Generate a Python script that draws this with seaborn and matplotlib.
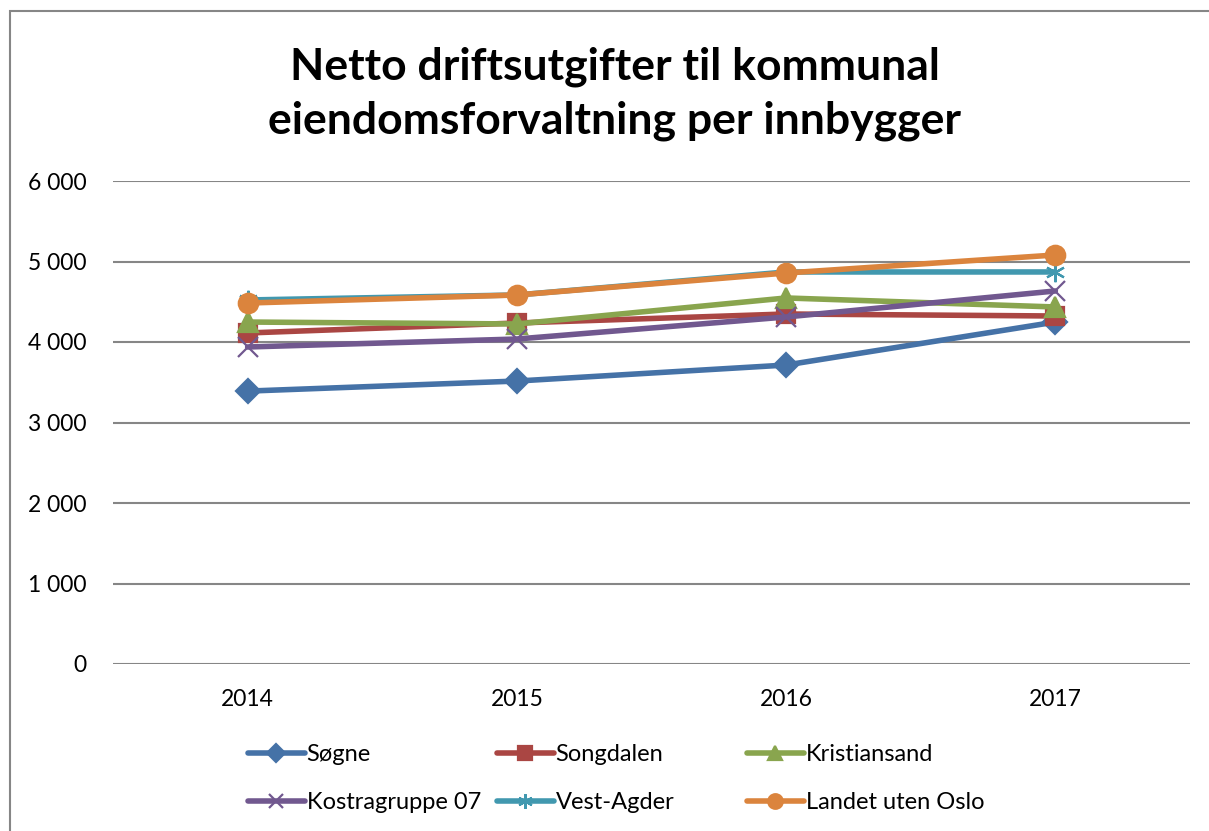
import pandas as pd
import matplotlib.pyplot as plt
import seaborn as sns
from matplotlib.patches import Rectangle
from matplotlib.ticker import FuncFormatter

sns.set_theme(style='white')
plt.rcParams['font.family'] = ['Lato', 'DejaVu Sans']

years = ['2014', '2015', '2016', '2017']
series = ['Søgne', 'Songdalen', 'Kristiansand', 'Kostragruppe 07', 'Vest-Agder', 'Landet uten Oslo']
sogne = [3390, 3515, 3714, 4248]
songdalen = [4112, 4236, 4348, 4323]
kristiansand = [4248, 4224, 4547, 4435]
kostra07 = [3938, 4037, 4311, 4634]
vest_agder = [4522, 4584, 4870, 4870]
landet = [4484, 4584, 4857, 5081]

colors = ['#4572A7', '#AA4643', '#89A54E', '#71588F', '#4198AF', '#DB843D']
markers = ['D', 's', '^', 'x', (6, 2, 0), 'o']
msizes = [12, 13, 14, 14, 14, 14]

values = [sogne, songdalen, kristiansand, kostra07, vest_agder, landet]

fig = plt.figure(figsize=(12.09, 8.31), dpi=100)
ax = fig.add_axes([113/1209, 1-664/831, (1190-113)/1209, (664-181)/831])

for name, vals, c, m, ms in zip(series, values, colors, markers, msizes):
    d = pd.DataFrame({'År': years, 'Verdi': vals})
    sns.lineplot(data=d, x='År', y='Verdi', color=c, marker=m, markersize=ms,
                 markeredgecolor=c, markerfacecolor=c, markeredgewidth=1.6,
                 linewidth=4, sort=False, ax=ax, label=name)

ax.set_xlim(-0.5, 3.5)
ax.set_ylim(0, 6000)
ax.set_yticks(range(0, 6001, 1000))
ax.yaxis.set_major_formatter(FuncFormatter(lambda v, p: f'{int(v):,}'.replace(',', ' ')))
ax.grid(axis='y', color='#868686', linewidth=1.5)
ax.grid(axis='x', visible=False)
for s in ax.spines.values():
    s.set_visible(False)
ax.tick_params(axis='both', labelsize=16.5, colors='black', length=0)
ax.tick_params(axis='y', pad=19)
ax.tick_params(axis='x', pad=18)
ax.set_xlabel('')
ax.set_ylabel('')

# legend: three equal-width columns, two rows, filled row by row
handles, labels = ax.get_legend_handles_labels()
ax.get_legend().remove()
col_x = [248, 497, 747]
for j, x in enumerate(col_x):
    idx = [j, j + 3]
    leg = fig.legend([handles[i] for i in idx], [labels[i] for i in idx],
                     loc='center left', bbox_to_anchor=(x/1209, 1-778.5/831), ncol=1,
                     frameon=False, fontsize=17, handlelength=2.4, handletextpad=0.08,
                     labelspacing=1.15, borderpad=0, borderaxespad=0, markerscale=0.75,
                     labelcolor='black')

fig.text(615/1209, 1-93.5/831, 'Netto driftsutgifter til kommunal\neiendomsforvaltning per innbygger',
         ha='center', va='center', fontsize=32, fontweight='bold', linespacing=1.42,
         color='black')

fig.patches.append(Rectangle((10/1209, -0.1), 1.2, (831-11)/831 + 0.1, transform=fig.transFigure,
                             fill=False, edgecolor='#868686', linewidth=1.5))

fig.savefig('out.png', dpi=100)
